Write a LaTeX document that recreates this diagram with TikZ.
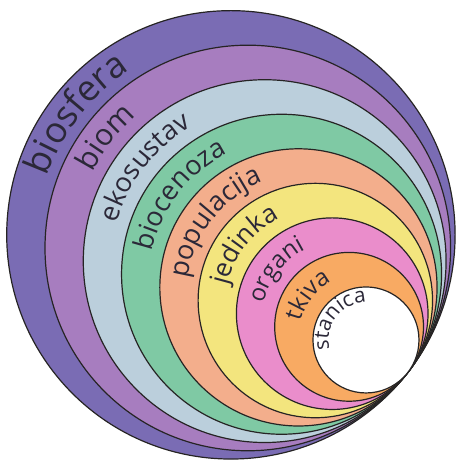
\documentclass[tikz,border=0pt]{standalone}
\usepackage{fontspec}
\setmainfont{Open Sans}
\usetikzlibrary{decorations.text}
\definecolor{c0}{HTML}{7A6CB4}
\definecolor{c1}{HTML}{A77DBF}
\definecolor{c2}{HTML}{BBCFDC}
\definecolor{c3}{HTML}{7FC9A4}
\definecolor{c4}{HTML}{F3AE8C}
\definecolor{c5}{HTML}{F3E57E}
\definecolor{c6}{HTML}{EA8DCB}
\definecolor{c7}{HTML}{F8AA63}
\definecolor{c8}{HTML}{FFFFFF}
\definecolor{txt}{HTML}{2B2838}
\definecolor{rim}{HTML}{262424}
\tikzset{ring/.style={draw=rim, line width=1.2pt}}
\def\Tx{407.8}\def\Ty{91.5}\def\ux{0.789}\def\uy{0.614}
% label along a circle tangent at T with radius #1, font size #2
\newcommand\ringlabel[3]{%
  \path[decorate, decoration={text along path, text align=center, text color=txt,
      text={|\fontsize{#2}{#2}\selectfont|#3}}]
    ({\Tx-\ux*#1+#1*cos(222)},{\Ty+\uy*#1+#1*sin(222)}) arc[start angle=222, end angle=62, radius=#1];}
\begin{document}
\begin{tikzpicture}[x=1pt,y=1pt]
\useasboundingbox (0,0) rectangle (457,464);
\coordinate (T) at (\Tx,\Ty);
\foreach \r/\c in {224.2/c0, 202.8/c1, 181.4/c2, 160.0/c3, 138.6/c4, 117.2/c5, 95.8/c6, 74.4/c7, 53.0/c8}
  \filldraw[ring, fill=\c] ({\Tx-\ux*\r},{\Ty+\uy*\r}) circle[radius=\r];
\ringlabel{208.1}{36}{biosfera}
\ringlabel{187.6}{30}{biom}
\ringlabel{166.7}{27}{ekosustav}
\ringlabel{145.2}{27}{biocenoza}
\ringlabel{123.9}{27}{populacija}
\ringlabel{102.6}{26}{jedinka}
\ringlabel{81.8}{24}{organi}
\ringlabel{60.6}{24}{tkiva}
\path[decorate, decoration={text along path, text align=center, text color=txt,
      text={|\fontsize{21}{21}\selectfont|stanica}}]
  ({366.0+37.5*cos(222)},{124.0+37.5*sin(222)}) arc[start angle=222, end angle=62, radius=37.5];
\end{tikzpicture}
\end{document}
